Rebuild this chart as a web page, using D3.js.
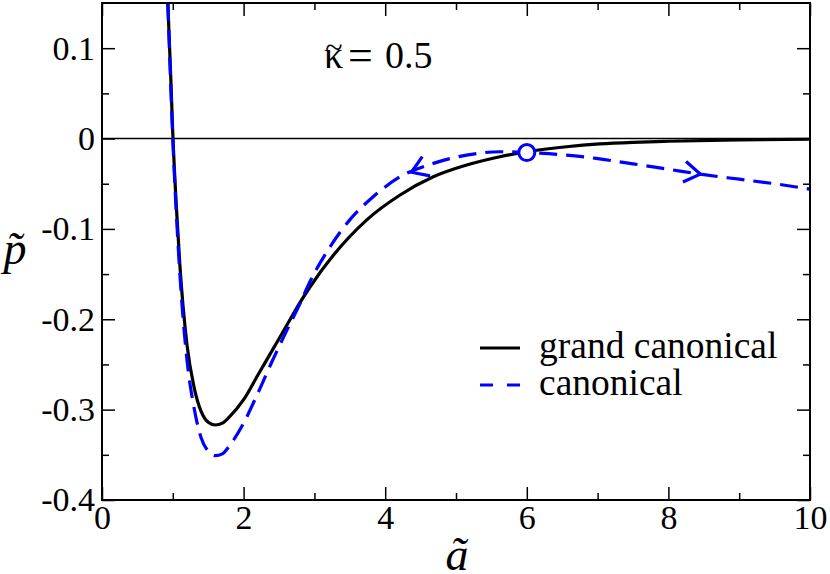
<!DOCTYPE html>
<html>
<head>
<meta charset="utf-8">
<script src="https://cdn.jsdelivr.net/npm/d3@7"></script>
<style>
  html, body { margin: 0; padding: 0; background: #fff; }
  svg { display: block; }
</style>
</head>
<body>
<svg id="chart" width="830" height="574" font-family="Liberation Serif"></svg>
<script>
// ---------- data ----------
const gcA = [0.93, 0.97, 1.0, 1.05, 1.1, 1.2, 1.3, 1.4, 1.5, 1.6, 1.7, 1.8, 2.0, 2.2, 2.4, 2.6, 2.8, 2.94, 3.27, 3.74, 4.21, 4.68, 5.15, 5.62, 6.0, 6.56, 7.03, 7.5, 8.0, 9.0, 10.0];
const gcP = [0.15, 0.07, 0.005, -0.075, -0.14, -0.228, -0.275, -0.302, -0.314, -0.317, -0.315, -0.308, -0.289, -0.262, -0.235, -0.208, -0.181, -0.164, -0.129, -0.090, -0.0625, -0.0423, -0.0293, -0.0201, -0.0146, -0.0091, -0.006, -0.0042, -0.003, -0.0015, -0.0008];

const cA = [0.93, 1.0, 1.1, 1.2, 1.3, 1.4, 1.5, 1.6, 1.7, 1.8, 2.0, 2.2, 2.4, 2.6, 2.8, 2.94, 3.22, 3.5, 3.83, 4.21, 4.68, 5.15, 5.62, 6.01, 6.56, 6.98, 7.5, 8.0, 8.5, 9.0, 9.5, 10.0];
const cP = [0.15, 0.0, -0.15, -0.245, -0.298, -0.331, -0.346, -0.351, -0.349, -0.34, -0.315, -0.282, -0.247, -0.214, -0.182, -0.158, -0.12, -0.090, -0.0644, -0.0423, -0.0275, -0.0183, -0.0146, -0.0155, -0.0183, -0.022, -0.028, -0.034, -0.04, -0.045, -0.05, -0.056];

const markerA = [6.0];
const markerP = [-0.0155];
const arrowA = [4.37, 8.45];
const arrowDir = [-1, 1];

const xTicks = [0, 2, 4, 6, 8, 10];
const xMinor = [1, 3, 5, 7, 9];
const yTicks = [-0.4, -0.3, -0.2, -0.1, 0, 0.1];
const yMinor = [-0.35, -0.25, -0.15, -0.05, 0.05];
const seriesNames = ["grand canonical", "canonical"];
const xTitle = "ã";
const yTitle = "p\u0303";
const kappaSym = "\u03BA";
const kappaVal = "0.5";

// ---------- layout ----------
const FONT = "Liberation Serif";
const L = 102, R = 810, T = 3, B = 500;
const x = d3.scaleLinear().domain([0, 10]).range([L, R]);
const y = d3.scaleLinear().domain([-0.4, 0.15]).range([B, T]);

const svg = d3.select("#chart");
svg.append("defs").append("clipPath").attr("id", "clip")
  .append("rect").attr("x", L).attr("y", T).attr("width", R - L).attr("height", B - T);

// zero line
svg.append("line").attr("x1", x(0)).attr("x2", x(10)).attr("y1", y(0)).attr("y2", y(0))
  .attr("stroke", "#000").attr("stroke-width", 1.6);

// axes (ticks inward)
const fmtY = d => d === 0 ? "0" : d.toFixed(1);
function styleAxis(g) {
  g.attr("font-family", FONT).attr("font-size", 34);
  g.select(".domain").remove();
  g.selectAll(".tick line").attr("stroke", "#000").attr("stroke-width", 1.5);
  g.selectAll(".tick text").attr("font-family", FONT).attr("font-size", 34).attr("fill", "#000");
}
svg.append("g").attr("transform", `translate(0,${B})`)
  .call(d3.axisBottom(x).tickValues(xTicks).tickSize(-13).tickPadding(5).tickFormat(d3.format("d"))).call(styleAxis);
svg.append("g").attr("transform", `translate(0,${B})`)
  .call(d3.axisBottom(x).tickValues(xMinor).tickSize(-7).tickFormat("")).call(styleAxis);
svg.append("g").attr("transform", `translate(0,${T})`)
  .call(d3.axisTop(x).tickValues(xTicks).tickSize(-13).tickFormat("")).call(styleAxis);
svg.append("g").attr("transform", `translate(0,${T})`)
  .call(d3.axisTop(x).tickValues(xMinor).tickSize(-7).tickFormat("")).call(styleAxis);
svg.append("g").attr("transform", `translate(${L},0)`)
  .call(d3.axisLeft(y).tickValues(yTicks).tickSize(-13).tickPadding(7).tickFormat(fmtY)).call(styleAxis);
svg.append("g").attr("transform", `translate(${L},0)`)
  .call(d3.axisLeft(y).tickValues(yMinor).tickSize(-7).tickFormat("")).call(styleAxis);
svg.append("g").attr("transform", `translate(${R},0)`)
  .call(d3.axisRight(y).tickValues(yTicks).tickSize(-13).tickFormat("")).call(styleAxis);
svg.append("g").attr("transform", `translate(${R},0)`)
  .call(d3.axisRight(y).tickValues(yMinor).tickSize(-7).tickFormat("")).call(styleAxis);

// curves
const line = d3.line().x(d => x(d[0])).y(d => y(d[1])).curve(d3.curveMonotoneX);
const gcData = gcA.map((a, i) => [a, gcP[i]]);
const cData = cA.map((a, i) => [a, cP[i]]);
const plot = svg.append("g").attr("clip-path", "url(#clip)");
plot.append("path").datum(gcData).attr("d", line)
  .attr("fill", "none").attr("stroke", "#000").attr("stroke-width", 3.2).attr("stroke-linejoin", "round");
plot.append("path").datum(cData).attr("d", line)
  .attr("fill", "none").attr("stroke", "#0000ff").attr("stroke-width", 3.2).attr("stroke-dasharray", "18,9");

// arrows on canonical curve
function interp(a) {
  for (let i = 0; i < cA.length - 1; i++) {
    if (a >= cA[i] && a <= cA[i + 1]) {
      const t = (a - cA[i]) / (cA[i + 1] - cA[i]);
      return cP[i] + t * (cP[i + 1] - cP[i]);
    }
  }
  return cP[cP.length - 1];
}
arrowA.forEach((a, k) => {
  const dir = arrowDir[k];
  const tx = x(a), ty = y(interp(a));
  const bx = x(a - dir * 0.2), by = y(interp(a - dir * 0.2));
  const ang = Math.atan2(by - ty, bx - tx);
  const len = 19, half = 33 * Math.PI / 180;
  const p1 = [tx + len * Math.cos(ang + half), ty + len * Math.sin(ang + half)];
  const p2 = [tx + len * Math.cos(ang - half), ty + len * Math.sin(ang - half)];
  plot.append("path")
    .attr("d", d3.line()([p1, [tx, ty], p2]))
    .attr("fill", "none").attr("stroke", "#0000ff").attr("stroke-width", 3.2)
    .attr("stroke-linejoin", "miter");
});

// marker
svg.selectAll("circle.mk").data(markerA).join("circle").attr("class", "mk")
  .attr("cx", d => x(d)).attr("cy", (d, i) => y(markerP[i])).attr("r", 8)
  .attr("fill", "#fff").attr("stroke", "#0000ff").attr("stroke-width", 3);

// frame
svg.append("rect").attr("x", L).attr("y", T).attr("width", R - L).attr("height", B - T)
  .attr("fill", "none").attr("stroke", "#000").attr("stroke-width", 2);

function txt(parent, xx, yy, size, s) {
  return parent.append("text").attr("x", xx).attr("y", yy)
    .attr("font-family", FONT).attr("font-size", size).attr("fill", "#000").text(s);
}

// legend
const lg = svg.append("g");
lg.append("line").attr("x1", 480).attr("x2", 520).attr("y1", 348).attr("y2", 348)
  .attr("stroke", "#000").attr("stroke-width", 3.2);
lg.append("line").attr("x1", 480).attr("x2", 521).attr("y1", 385).attr("y2", 385)
  .attr("stroke", "#0000ff").attr("stroke-width", 3.2).attr("stroke-dasharray", "13,14");
txt(lg, 539, 358, 37.5, seriesNames[0]);
txt(lg, 539, 395, 37.5, seriesNames[1]);

// kappa annotation
const kt = svg.append("text").attr("y", 68).attr("font-family", FONT).attr("font-size", 38);
kt.append("tspan").attr("x", 324).text(kappaSym);
kt.append("tspan").attr("x", 348).attr("font-size", 44).attr("dy", 2).text("=");
kt.append("tspan").attr("x", 385).attr("dy", -2).text(kappaVal);
txt(svg, 334, 58, 32, "~").attr("text-anchor", "middle");

// axis titles
txt(svg, 457, 570, 46, xTitle).attr("font-style", "italic").attr("text-anchor", "middle");
txt(svg, 15, 264, 46, yTitle).attr("font-style", "italic").attr("text-anchor", "middle");
</script>
</body>
</html>
